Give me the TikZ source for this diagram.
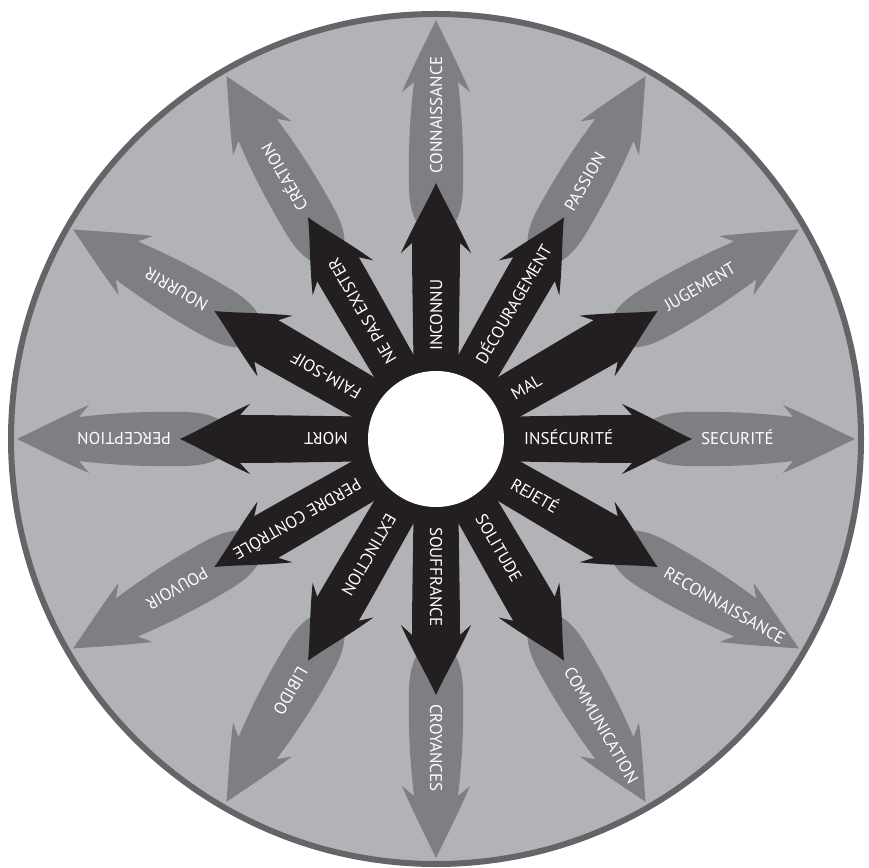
\documentclass[tikz,border=0pt]{standalone}
\usepackage{fontspec}
\setmainfont{PT Sans}
\definecolor{DiskGray}{HTML}{B2B3B6}
\definecolor{RimGray}{HTML}{646568}
\definecolor{ArrowGray}{HTML}{7E7F83}
\definecolor{InkBlack}{HTML}{231F20}
\begin{document}
\begin{tikzpicture}[x=1pt,y=1pt,
rim/.style={draw=RimGray,line width=6pt,fill=DiskGray},
inner/.style={fill=InkBlack},
outer/.style={fill=ArrowGray},
lab/.style={text=white,font=\fontsize{17}{19}\selectfont,inner sep=0pt,anchor=west,text height=12pt,text depth=0pt}]
\useasboundingbox (0,0) rectangle (869,867);
\coordinate (c) at (436,428);
\draw[rim] (c) circle (425);
\foreach \a in {90,60,...,-240}
  \fill[outer,shift={(c)},rotate=\a] (205,0) .. controls (205,-17) and (222,-26) .. (250,-27) .. controls (300,-28) and (330,-25) .. (357,-22) -- (347,-34) .. controls (375,-22) and (400,-9) .. (419,0) .. controls (400,9) and (375,22) .. (347,34) -- (357,22) .. controls (330,25) and (300,28) .. (250,27) .. controls (222,26) and (205,17) .. (205,0) -- cycle;
\foreach \a in {90,60,...,-240}
  \fill[inner,shift={(c)},rotate=\a] (0,-22) .. controls (80,-22) and (150,-24) .. (196,-24) -- (186,-35) .. controls (215,-22) and (238,-8) .. (256,0) .. controls (238,8) and (215,22) .. (186,35) -- (196,24) .. controls (150,24) and (80,22) .. (0,22) -- cycle;
\fill[white] (c) circle (68);
\foreach \a/\blk/\gry [count=\i] in {90/INCONNU/CONNAISSANCE, 60/DÉCOURAGEMENT/PASSION, 30/MAL/JUGEMENT, 0/INSÉCURITÉ/SECURITÉ, -30/REJETÉ/RECONNAISSANCE, -60/SOLITUDE/COMMUNICATION, -90/SOUFFRANCE/CROYANCES, -120/EXTINCTION/LIBIDO, -150/PERDRE CONTRÔLE/POUVOIR, 180/MORT/PERCEPTION, 150/FAIM-SOIF/NOURRIR, 120/NE PAS EXISTER/CRÉATION}{
  \node[lab,rotate=\a] (b\i) at ([shift={(\a:88)}]c) {\blk};
  \node[lab,rotate=\a] (g\i) at ([shift={(\a:265)}]c) {\gry};
}
\end{tikzpicture}
\end{document}
